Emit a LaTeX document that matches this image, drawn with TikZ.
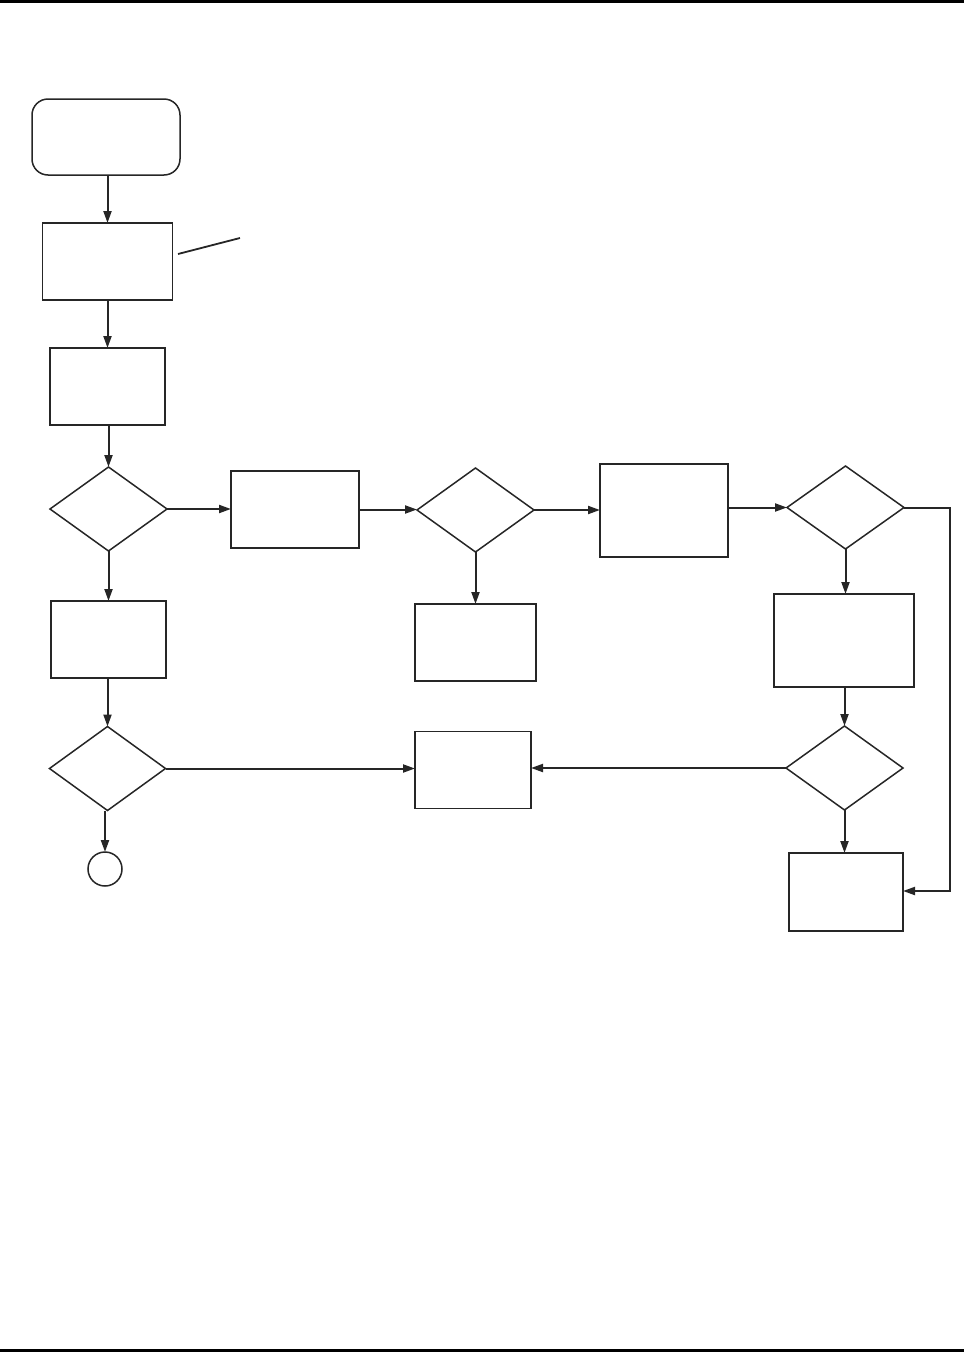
\documentclass[tikz,border=0pt]{standalone}
\usetikzlibrary{shapes.geometric,arrows.meta}
\begin{document}
\begin{tikzpicture}[x=1pt,y=-1pt,
  box/.style={draw=black!85,line width=1.8pt,rectangle,inner sep=0pt,outer sep=0pt},
  startbox/.style={draw=black!85,line width=1.5pt,rectangle,rounded corners=16pt,inner sep=0pt,outer sep=0pt,minimum width=148pt,minimum height=76pt},
  dec/.style={draw=black!85,line width=1.5pt,diamond,inner sep=0pt,outer sep=0pt,minimum width=117pt,minimum height=84pt},
  endc/.style={draw=black!85,line width=1.5pt,circle,inner sep=0pt,outer sep=0pt,minimum size=34pt},
  arr/.style={draw=black!85,line width=2pt,-{Triangle[length=12pt,width=8pt]}},
  rule/.style={draw=black,line width=2.6pt}]
\useasboundingbox (0,0) rectangle (964,1352);
\coordinate (tl) at (0,1.3); \coordinate (tr) at (964,1.3);
\coordinate (bl) at (0,1350.5); \coordinate (br) at (964,1350.5);
\draw[rule] (tl) -- (tr);
\draw[rule] (bl) -- (br);

\node[startbox] (start) at (106,137) {};
\node[box,minimum width=130pt,minimum height=77pt] (b1) at (107.5,261.5) {};
\node[box,minimum width=115pt,minimum height=77pt] (b2) at (107.5,386.5) {};
\node[dec] (d1) at (108.5,509) {};
\node[box,minimum width=128pt,minimum height=77pt] (b3) at (295,509.5) {};
\node[dec] (d2) at (475.5,510) {};
\node[box,minimum width=128pt,minimum height=93pt] (b4) at (664,510.5) {};
\node[dec,minimum width=117pt,minimum height=83pt] (d3) at (845.5,507.5) {};
\node[box,minimum width=115pt,minimum height=77pt] (b5) at (108.5,639.5) {};
\node[box,minimum width=121pt,minimum height=77pt] (b6) at (475.5,642.5) {};
\node[box,minimum width=140pt,minimum height=93pt] (b7) at (844,640.5) {};
\node[dec,minimum width=116pt,minimum height=84pt] (d5) at (107.5,768.5) {};
\node[box,minimum width=116pt,minimum height=77pt] (b8) at (473,770) {};
\node[dec,minimum width=117pt,minimum height=84pt] (d4) at (844.5,768) {};
\node[box,minimum width=114pt,minimum height=78pt] (b9) at (846,892) {};
\node[endc] (e) at (105,869) {};

\coordinate (a1) at (178,254);
\coordinate (a2) at (240,238);
\draw[line width=1.8pt,black!85] (a1) -- (a2);

\draw[arr] (start.south -| b1.north) -- (b1.north);
\draw[arr] (b1.south) -- (b2.north);
\draw[arr] (b2.south -| d1.north) -- (d1.north);
\draw[arr] (d1.south) -- (d1.south |- b5.north);
\draw[arr] (b5.south -| d5.north) -- (d5.north);
\draw[arr] (d5.south -| e.north) -- (e.north);
\draw[arr] (d1.east) -- (d1.east -| b3.west);
\draw[arr] (b3.east) -- (b3.east -| d2.west);
\draw[arr] (d2.east) -- (d2.east -| b4.west);
\draw[arr] (d3.west -| b4.east) -- (d3.west);
\draw[arr] (d2.south) -- (b6.north);
\draw[arr] (d3.south) -- (d3.south |- b7.north);
\draw[arr] (d4.north |- b7.south) -- (d4.north);
\draw[arr] (d4.south) -- (d4.south |- b9.north);
\draw[arr] (d5.east) -- (d5.east -| b8.west);
\draw[arr] (d4.west) -- (d4.west -| b8.east);
\coordinate (r1) at (950,507.5);
\coordinate (r2) at (950,891);
\draw[arr] (d3.east) -- (r1) -- (r2) -- (r2 -| b9.east);
\end{tikzpicture}
\end{document}
